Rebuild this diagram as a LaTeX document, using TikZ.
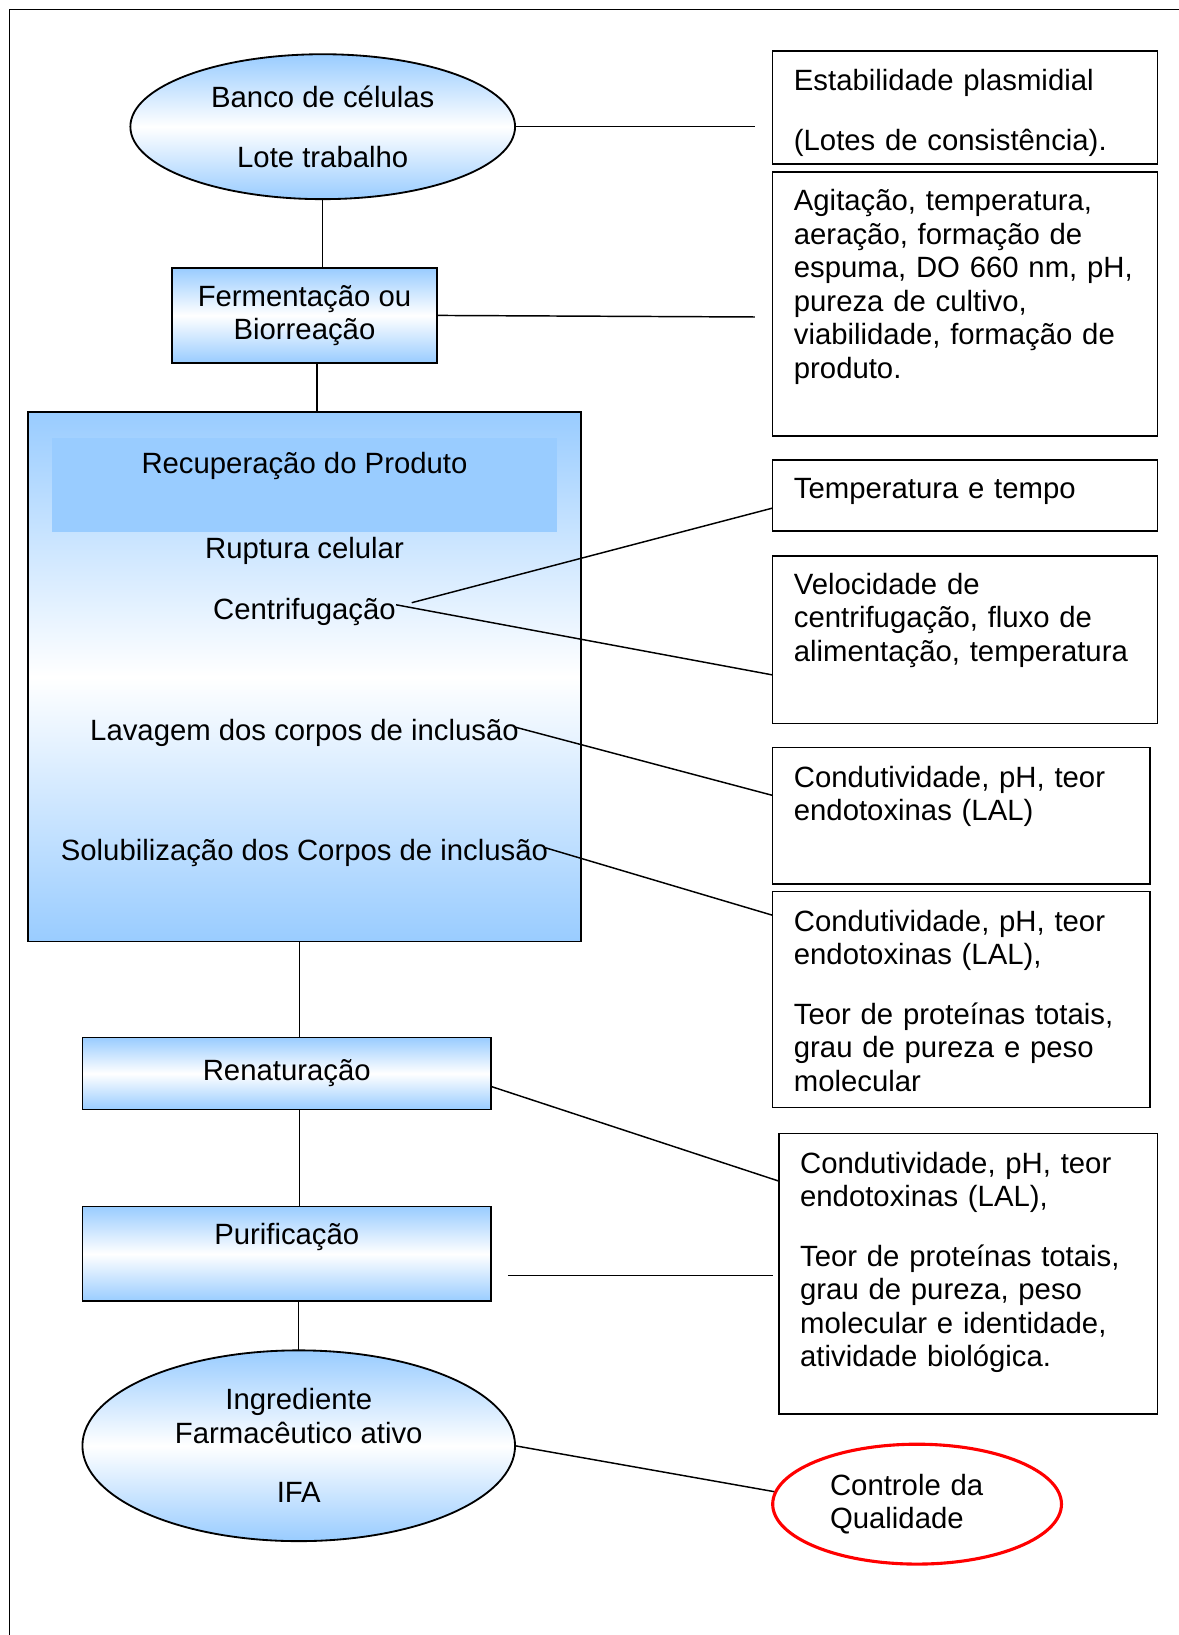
\documentclass[tikz,border=0pt]{standalone}
\usepackage{fontspec}
\setmainfont{Liberation Sans}
\usetikzlibrary{shapes.geometric, calc}
\definecolor{paleblue}{RGB}{153,204,255}

\begin{document}
\begin{tikzpicture}[x = 0.02cm, y = -0.02cm, font = \fontsize{16}{18.3}\selectfont]
\tikzstyle{StepStyle}=[shape = rectangle,
                       draw, line width = 1pt,
                       top color = paleblue, bottom color = paleblue,
                       middle color = white,
                       inner sep = 0pt, outer sep = 0pt,
                       align = center]
\tikzstyle{EllStyle}=[StepStyle, shape = ellipse]
\tikzstyle{NoteStyle}=[shape = rectangle, draw, line width = 0.9pt,
                       anchor = north west,
                       inner sep = 0pt, outer sep = 0pt]
\tikzstyle{NoteText}=[anchor = base west, inner sep = 0pt,
                      text width = 7cm, align = left]
\tikzstyle{StepText}=[anchor = base, inner sep = 0pt]
\tikzstyle{LinkStyle}=[line width = 0.8pt]
\useasboundingbox (0,0) rectangle (1130,1568);
\draw[line width = 0.8pt] (1140,9) -- (9,9) -- (9,1580);
% etapas do processo
\node[EllStyle, minimum width = 7.38cm, minimum height = 2.78cm] (banco) at (309.5,121.5)
  {Banco de células\\[0.5cm]Lote trabalho};
\node[StepStyle, minimum width = 5.08cm, minimum height = 1.82cm] (ferm) at (292,302.5)
  {Fermentação ou\\Biorreação};
\node[StepStyle, minimum width = 10.6cm, minimum height = 10.16cm] (recup) at (292,649) {};
\node[fill = paleblue, minimum width = 9.68cm, minimum height = 1.8cm, inner sep = 0pt] (band) at (292,465) {};
\node[StepText] (recupt) at (292,454) {Recuperação do Produto};
\node[StepText] (rupt) at (292,536) {Ruptura celular};
\node[StepText] (centr) at (292,594) {Centrifugação};
\node[StepText] (lav) at (292,710) {Lavagem dos corpos de inclusão};
\node[StepText] (solub) at (292,825) {Solubilização dos Corpos de inclusão};
\node[StepStyle, minimum width = 7.84cm, minimum height = 1.38cm] (ren) at (275,1029.5)
  {Renaturação};
\node[StepStyle, minimum width = 7.84cm, minimum height = 1.82cm, text depth = 0.75cm] (puri) at (275,1202.5)
  {Purificação};
\node[EllStyle, minimum width = 8.3cm, minimum height = 3.66cm] (ifa) at (286.5,1386.5)
  {Ingrediente\\Farmacêutico ativo\\[0.5cm]IFA};
\node[shape = ellipse, draw = red, line width = 1.7pt, inner sep = 0pt,
      minimum width = 5.54cm, minimum height = 2.3cm,
      text width = 3.34cm, align = left] (qc) at (879.5,1442.5)
  {Controle da\\Qualidade};
% controles
\node[NoteStyle, minimum width = 7.38cm, minimum height = 2.16cm] (b1) at (741,49) {};
\node[NoteStyle, minimum width = 7.38cm, minimum height = 5.06cm] (b2) at (741,165) {};
\node[NoteStyle, minimum width = 7.38cm, minimum height = 1.36cm] (b3) at (741,441) {};
\node[NoteStyle, minimum width = 7.38cm, minimum height = 3.22cm] (b4) at (741,533) {};
\node[NoteStyle, minimum width = 7.24cm, minimum height = 2.62cm] (b5) at (741,717) {};
\node[NoteStyle, minimum width = 7.24cm, minimum height = 4.14cm] (b6) at (741,855) {};
\node[NoteStyle, minimum width = 7.26cm, minimum height = 5.38cm] (b7) at (747,1087) {};
\node[NoteText] (b1t) at (761,87) {Estabilidade plasmidial\\[0.5cm](Lotes de consistência).};
\node[NoteText] (b2t) at (761,202) {Agitação, temperatura,\\aeração, formação de\\espuma, DO 660 nm, pH,\\pureza de cultivo,\\viabilidade, formação de\\produto.};
\node[NoteText] (b3t) at (761,478) {Temperatura e tempo};
\node[NoteText] (b4t) at (761,570) {Velocidade de\\centrifugação, fluxo de\\alimentação, temperatura};
\node[NoteText] (b5t) at (761,755) {Condutividade, pH, teor\\endotoxinas (LAL)};
\node[NoteText] (b6t) at (761,893) {Condutividade, pH, teor\\endotoxinas (LAL),\\[0.5cm]Teor de proteínas totais,\\grau de pureza e peso\\molecular};
\node[NoteText] (b7t) at (767,1125) {Condutividade, pH, teor\\endotoxinas (LAL),\\[0.5cm]Teor de proteínas totais,\\grau de pureza, peso\\molecular e identidade,\\atividade biológica.};
\coordinate (banco-end) at (724,121.5);
\coordinate (ferm-end) at (724,304);
\coordinate (puri-out) at (487,1223);
\coordinate (b7-in) at (741,1223);
\draw[LinkStyle] (banco.south) -- (banco.south |- ferm.north);
\draw[LinkStyle] ([xshift = 0.24cm]ferm.south) -- ([xshift = 0.24cm]ferm.south |- recup.north);
\draw[LinkStyle] ([xshift = -0.1cm]recup.south) -- ([xshift = -0.1cm]recup.south |- ren.north);
\draw[LinkStyle] ([xshift = 0.24cm]ren.south) -- ([xshift = 0.24cm]ren.south |- puri.north);
\draw[LinkStyle] (ifa.north |- puri.south) -- (ifa.north);
\draw[LinkStyle] (banco.east) -- (banco-end);
\draw[LinkStyle] (ferm.east) -- (ferm-end);
\draw[LinkStyle] ([xshift = 0.3cm, yshift = 0.32cm]centr.base east) -- ($(b3.north west)!0.68!(b3.south west)$);
\draw[LinkStyle] ([yshift = 0.28cm]centr.base east) -- ($(b4.north west)!0.71!(b4.south west)$);
\draw[LinkStyle] ([xshift = -0.1cm, yshift = 0.26cm]lav.base east) -- ($(b5.north west)!0.35!(b5.south west)$);
\draw[LinkStyle] ([xshift = -0.06cm, yshift = 0.24cm]solub.base east) -- ($(b6.north west)!0.11!(b6.south west)$);
\draw[LinkStyle] ($(ren.north east)!0.68!(ren.south east)$) -- ($(b7.north west)!0.17!(b7.south west)$);
\draw[LinkStyle] (puri-out) -- (b7-in);
\draw[LinkStyle] (ifa.east) -- (qc.175);
\end{tikzpicture}
\end{document}
